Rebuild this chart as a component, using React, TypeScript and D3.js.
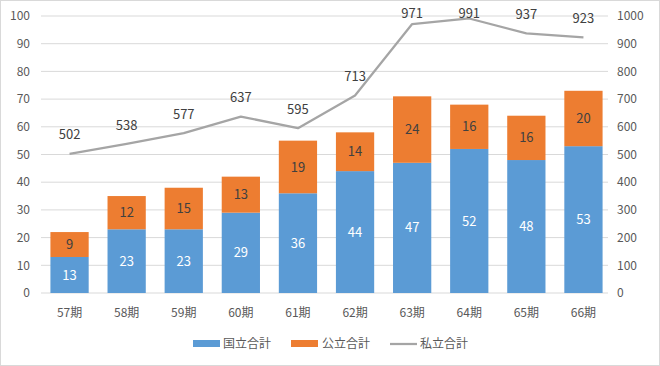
import * as d3 from 'd3';

const periods = ['57期', '58期', '59期', '60期', '61期', '62期', '63期', '64期', '65期', '66期'];
const national = [13, 23, 23, 29, 36, 44, 47, 52, 48, 53];
const pub = [9, 12, 15, 13, 19, 14, 24, 16, 16, 20];
const priv = [502, 538, 577, 637, 595, 713, 971, 991, 937, 923];
const leftTicks = [0, 10, 20, 30, 40, 50, 60, 70, 80, 90, 100];
const rightTicks = [0, 100, 200, 300, 400, 500, 600, 700, 800, 900, 1000];

const W = 660;
const H = 366;
const margin = { top: 16, right: 48, bottom: 73, left: 41 };
const FONT = '"Noto Sans CJK JP", "Noto Sans", sans-serif';
const BLUE = '#5b9bd5';
const ORANGE = '#ed7d31';
const GRAY = '#a5a5a5';

const App = () => {
  const x = d3.scaleBand().domain(periods).range([margin.left, W - margin.right]).paddingInner(0.33).paddingOuter(0.165);
  const yL = d3.scaleLinear().domain([0, 100]).range([H - margin.bottom, margin.top]);
  const yR = d3.scaleLinear().domain([0, 1000]).range([H - margin.bottom, margin.top]);
  const line = d3.line<number>()
    .x((_, i) => (x(periods[i]) as number) + x.bandwidth() / 2)
    .y(d => yR(d));

  return (
    <svg width={W} height={H} style={{ position: 'absolute', left: 0, top: 0 }} fontFamily={FONT}>
      <rect x={0.5} y={0.5} width={W - 1} height={H - 1} fill="#fff" stroke="#d9d9d9" />
      {leftTicks.map(t => (
        <g key={t}>
          <line x1={margin.left} x2={W - margin.right - 4} y1={yL(t)} y2={yL(t)} stroke="#d9d9d9" />
          <text x={30} y={yL(t)} dy="0.35em" textAnchor="end" fontSize={12} fill="#595959">{t}</text>
        </g>
      ))}
      {rightTicks.map(t => (
        <text key={t} x={617} y={yR(t)} dy="0.35em" textAnchor="start" fontSize={12} fill="#595959">{t}</text>
      ))}
      {periods.map((p, i) => {
        const bx = x(p) as number;
        const bw = x.bandwidth();
        const cx = bx + bw / 2;
        return (
          <g key={p}>
            <rect x={bx} y={yL(national[i])} width={bw} height={yL(0) - yL(national[i])} fill={BLUE} />
            <rect x={bx} y={yL(national[i] + pub[i])} width={bw} height={yL(0) - yL(pub[i])} fill={ORANGE} />
            <text x={cx} y={yL(national[i] / 2)} dy="0.35em" textAnchor="middle" fontSize={13} fill="#fff">{national[i]}</text>
            <text x={cx} y={yL(national[i] + pub[i] / 2)} dy="0.35em" textAnchor="middle" fontSize={13} fill="#404040">{pub[i]}</text>
            <text x={cx} y={yL(0) + 20} dy="0.35em" textAnchor="middle" fontSize={12} fill="#595959">{p}</text>
          </g>
        );
      })}
      <path d={line(priv) || ''} fill="none" stroke={GRAY} strokeWidth={2.25} strokeLinejoin="round" />
      {priv.map((v, i) => (
        <text key={i} x={(x(periods[i]) as number) + x.bandwidth() / 2} y={Math.max(yR(v) - 19, 13)} dy="0.35em" textAnchor="middle" fontSize={13} fill="#404040">{v}</text>
      ))}
      <g fontSize={12} fill="#595959">
        <rect x={193} y={340} width={27} height={7} fill={BLUE} />
        <text x={223} y={344} dy="0.35em">国立合計</text>
        <rect x={291} y={340} width={27} height={7} fill={ORANGE} />
        <text x={322} y={344} dy="0.35em">公立合計</text>
        <line x1={390} x2={417} y1={344} y2={344} stroke={GRAY} strokeWidth={2.25} />
        <text x={420} y={344} dy="0.35em">私立合計</text>
      </g>
    </svg>
  );
};

export default App;
